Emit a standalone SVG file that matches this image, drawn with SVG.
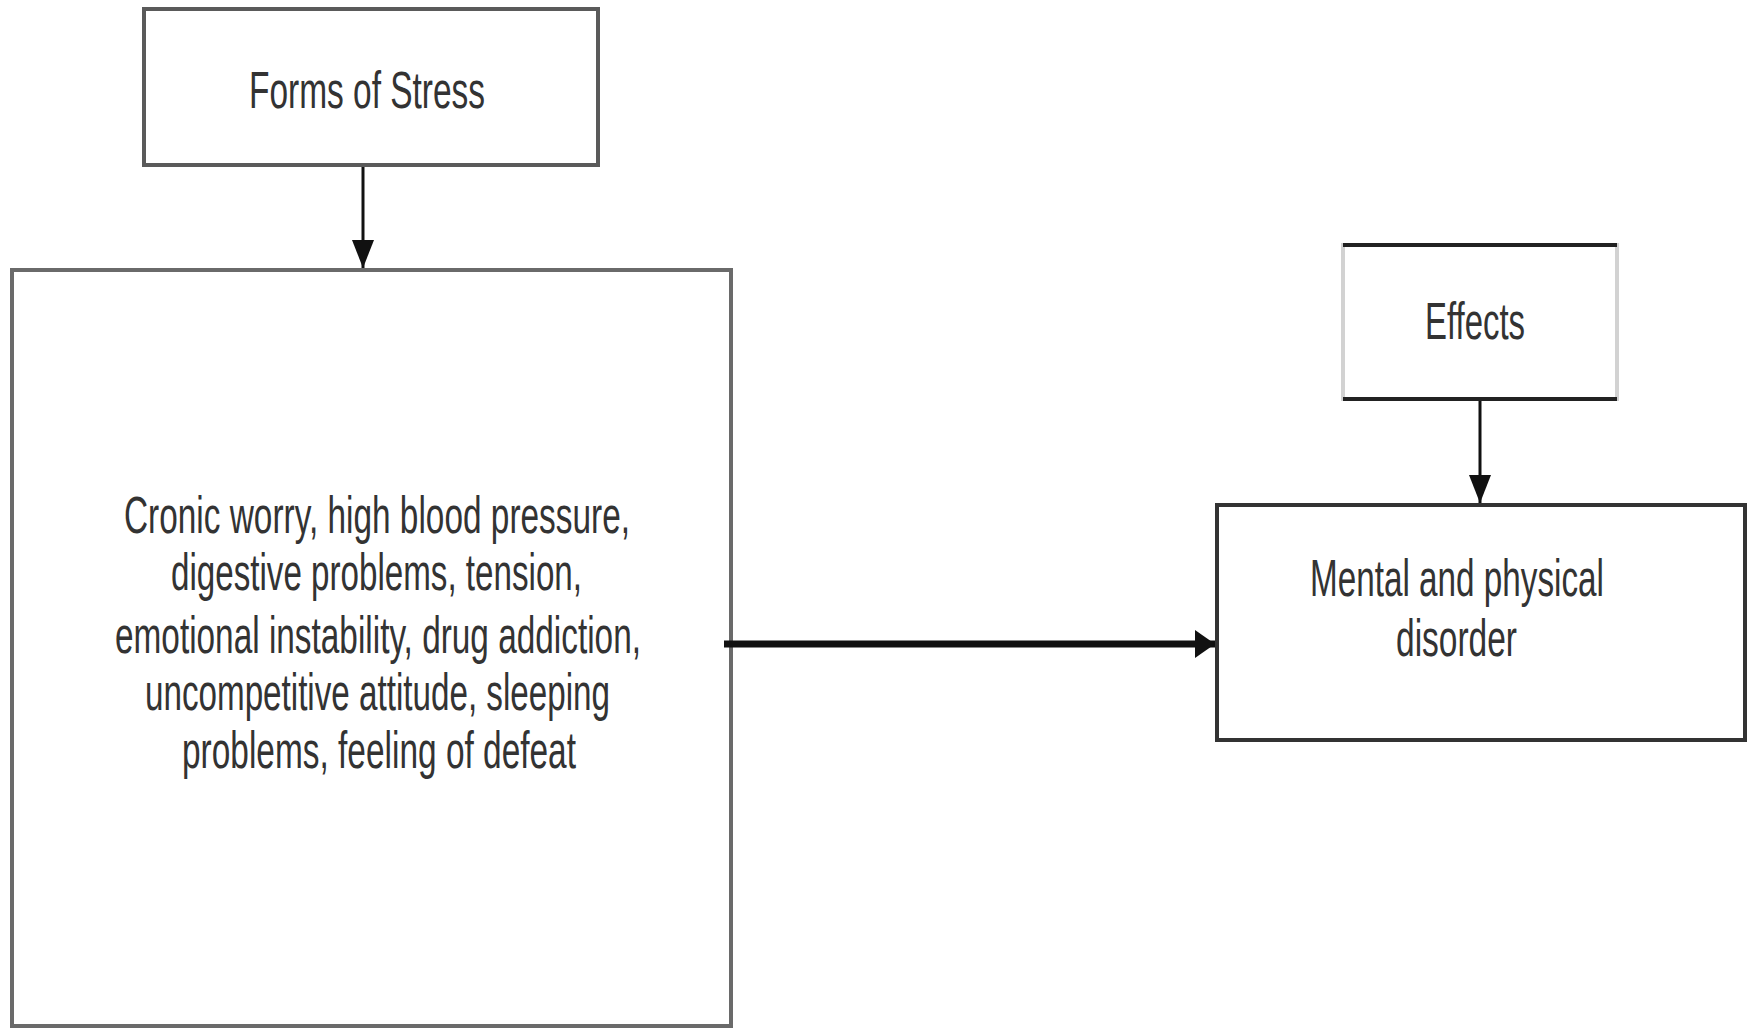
<svg xmlns="http://www.w3.org/2000/svg" width="1752" height="1028" viewBox="0 0 1752 1028">
  <style>
    .lbl { font-family: "Liberation Sans", Arial, sans-serif; font-size: 52px; fill: #333333; }
    .conn { stroke: #111111; fill: none; }
  </style>
  <defs>
    <marker id="headThin" markerUnits="userSpaceOnUse" markerWidth="28" markerHeight="22" refX="28" refY="11" orient="auto">
      <path d="M0,0 L28,11 L0,22 z" fill="#111111"/>
    </marker>
    <marker id="headThick" markerUnits="userSpaceOnUse" markerWidth="20" markerHeight="28" refX="20" refY="14" orient="auto">
      <path d="M0,0 L20,14 L0,28 z" fill="#111111"/>
    </marker>
  </defs>
  <rect width="1752" height="1028" fill="#ffffff"/>

  <g id="forms-of-stress">
    <rect x="144" y="9" width="454" height="156" fill="#ffffff" stroke="#5a5a5a" stroke-width="4"/>
    <text class="lbl" x="249" y="108" textLength="236" lengthAdjust="spacingAndGlyphs">Forms of Stress</text>
  </g>

  <g id="symptoms">
    <rect x="12" y="270" width="719" height="756" fill="#ffffff" stroke="#6a6a6a" stroke-width="4"/>
    <text class="lbl" x="124" y="533" textLength="506" lengthAdjust="spacingAndGlyphs">Cronic worry, high blood pressure,</text>
    <text class="lbl" x="171" y="590" textLength="411" lengthAdjust="spacingAndGlyphs">digestive problems, tension,</text>
    <text class="lbl" x="115" y="653" textLength="526" lengthAdjust="spacingAndGlyphs">emotional instability, drug addiction,</text>
    <text class="lbl" x="145" y="710" textLength="465" lengthAdjust="spacingAndGlyphs">uncompetitive attitude, sleeping</text>
    <text class="lbl" x="182" y="768" textLength="394" lengthAdjust="spacingAndGlyphs">problems, feeling of defeat</text>
  </g>

  <g id="effects">
    <rect x="1343" y="245" width="274" height="154" fill="#ffffff" stroke="#d2d2d2" stroke-width="4"/>
    <line x1="1343" y1="245" x2="1617" y2="245" stroke="#222222" stroke-width="4"/>
    <line x1="1343" y1="399" x2="1617" y2="399" stroke="#222222" stroke-width="4"/>
    <text class="lbl" x="1425" y="339" textLength="100" lengthAdjust="spacingAndGlyphs">Effects</text>
  </g>

  <g id="disorder">
    <rect x="1217" y="505" width="528" height="235" fill="#ffffff" stroke="#333333" stroke-width="4"/>
    <text class="lbl" x="1310" y="596" textLength="294" lengthAdjust="spacingAndGlyphs">Mental and physical</text>
    <text class="lbl" x="1396" y="656" textLength="121" lengthAdjust="spacingAndGlyphs">disorder</text>
  </g>

  <g id="connectors">
    <line class="conn" x1="363" y1="167" x2="363" y2="268" stroke-width="3" marker-end="url(#headThin)"/>
    <line class="conn" x1="1480" y1="401" x2="1480" y2="503" stroke-width="3" marker-end="url(#headThin)"/>
    <line class="conn" x1="724" y1="644" x2="1215" y2="644" stroke-width="7" marker-end="url(#headThick)"/>
  </g>
</svg>
